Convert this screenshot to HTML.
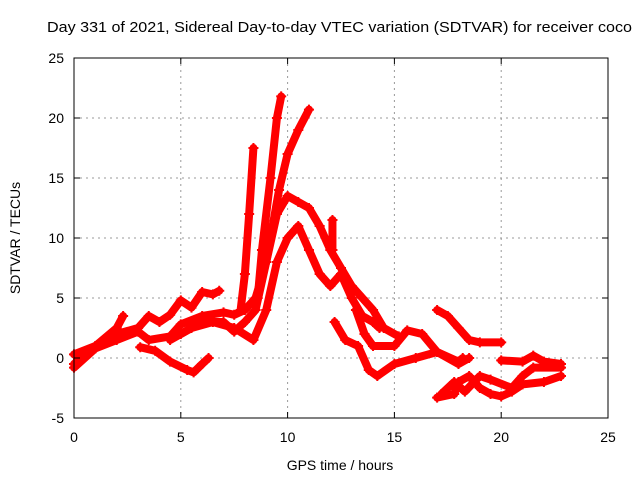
<!DOCTYPE html>
<html><head><meta charset="utf-8"><style>
body{margin:0;background:#fff;}
svg{display:block;font-family:"Liberation Sans",sans-serif;}
</style></head><body>
<svg id="chart" width="640" height="480">
<text x="47" y="32" font-size="15" textLength="585" lengthAdjust="spacingAndGlyphs">Day 331 of 2021, Sidereal Day-to-day VTEC variation (SDTVAR) for receiver coco</text>
<text x="340" y="470" font-size="14" text-anchor="middle">GPS time / hours</text>
<text x="20" y="238" font-size="14" text-anchor="middle" transform="rotate(-90 20 238)">SDTVAR / TECUs</text>
<g id="grid"></g><g id="series"></g>
<rect x="74" y="58" width="534" height="360" fill="none" stroke="#000"/>
<g id="ticks"></g>
</svg>
<script>
const xTicks=[0,5,10,15,20,25];
const yTicks=[-5,0,5,10,15,20,25];
const s1=[[0,0.3],[1,1],[2,2],[3,2.5],[3.5,3.5],[4,3],[4.5,3.6],[5,4.8],[5.5,4.2],[6,5.5],[6.5,5.3],[6.8,5.6]];
const s2=[[3.1,0.9],[3.8,0.6],[4.5,-0.3],[5.3,-1],[5.6,-1.2],[6,-0.5],[6.3,0]];
const s3=[[0,-0.5],[1,1],[2,2.5],[2.3,3.5]];
const s4=[[0,-0.8],[1,0.8],[2,1.5],[3,2.2],[3.5,1.5],[4.5,1.8],[5,2.8],[6,3.5],[7,3.8],[7.5,3.6],[8,4],[8.5,5],[9,8],[9.3,11],[9.6,14],[10,17],[10.5,19],[11,20.7]];
const s5=[[7.8,4],[8,7],[8.2,12],[8.4,17.5]];
const s6=[[8.6,5],[8.8,9],[9.2,15],[9.5,20],[9.7,21.8]];
const s7=[[5,2],[6,3],[7,3],[7.5,2.2],[8,3],[8.5,4],[9,8],[9.5,12],[10,13.5],[10.5,13],[11,12.5],[11.5,11],[12,9],[12.5,7.5],[13,6],[13.5,5],[14,4],[14.5,2.5],[15.2,1.8]];
const s8=[[4.5,1.5],[5.5,2.5],[6.5,3],[7.5,2.5],[8.4,1.5],[9,4],[9.5,8],[10,10],[10.5,11],[11,9],[11.5,7],[12,6],[12.5,7],[13,5],[13.5,3.5],[14,3],[14.3,2.5]];
const s9=[[12.2,3],[12.7,1.5],[13.3,1],[13.8,-1],[14.2,-1.5],[15,-0.5],[16,0],[17,0.5],[18,-0.5],[18.5,0]];
const s10=[[13.2,4],[13.6,2],[14,1],[15,1],[15.6,2.3],[16.3,2],[17,0.5],[18,-0.3],[18.2,0]];
const s11=[[17,4],[17.5,3.5],[18,2.5],[18.5,1.5],[19,1.3],[20,1.3]];
const s12=[[20,-0.2],[21,-0.3],[21.5,0.2],[22,-0.3],[22.8,-0.5]];
const s13=[[17,-3.3],[17.8,-3],[18,-2],[18.5,-1.5],[19,-2.5],[19.5,-3],[20,-3.2],[20.5,-2.8],[21,-2.2],[22,-2],[22.8,-1.5]];
const s14=[[17.2,-3],[17.8,-2],[18.3,-2.8],[19,-1.5],[19.5,-1.8],[20.5,-2.5],[21,-1.5],[21.5,-0.8],[22.8,-0.8]];
const s15=[[12.1,11.5],[12.1,9]];
const allSeries=[s1,s2,s3,s4,s5,s6,s7,s8,s9,s10,s11,s12,s13,s14,s15];
const NS="http://www.w3.org/2000/svg";
const X=t=>74+t*534/25, Y=v=>358-v*12;
const grid=document.getElementById('grid'),ticks=document.getElementById('ticks'),ser=document.getElementById('series');
function mk(tag,attrs,parent){const e=document.createElementNS(NS,tag);for(const k in attrs)e.setAttribute(k,attrs[k]);parent.appendChild(e);return e;}
xTicks.forEach(t=>{const x=X(t);
 if(t>0&&t<25){const g=mk('line',{x1:x,x2:x,y1:58,y2:418,stroke:'#999','stroke-dasharray':'2,4'},grid);}
 mk('line',{x1:x,x2:x,y1:418,y2:412,stroke:'#000'},ticks);mk('line',{x1:x,x2:x,y1:58,y2:64,stroke:'#000'},ticks);
 const l=mk('text',{x:x,y:442,'font-size':14,'text-anchor':'middle'},ticks);l.textContent=t;
 });
yTicks.forEach(v=>{const y=Y(v);
 if(v>-5&&v<25){const g=mk('line',{x1:74,x2:608,y1:y,y2:y,stroke:'#999','stroke-dasharray':'2,4'},grid);}
 mk('line',{x1:74,x2:80,y1:y,y2:y,stroke:'#000'},ticks);mk('line',{x1:608,x2:602,y1:y,y2:y,stroke:'#000'},ticks);
 const l=mk('text',{x:64,y:y+5,'font-size':14,'text-anchor':'end'},ticks);l.textContent=v;
 });
allSeries.forEach((s,i)=>{
 const p=mk('polyline',{points:s.map(d=>X(d[0])+','+Y(d[1])).join(' '),fill:'none',stroke:'#f00','stroke-width':8,'stroke-linejoin':'round','stroke-linecap':'round'},ser);
 
 
 s.forEach(d=>{const x=X(d[0]),y=Y(d[1]);
  const m=mk('path',{d:`M${x-5},${y}H${x+5}M${x},${y-5}V${y+5}`,stroke:'#f00','stroke-width':2},ser);
  
  });
});
</script>
</body></html>
